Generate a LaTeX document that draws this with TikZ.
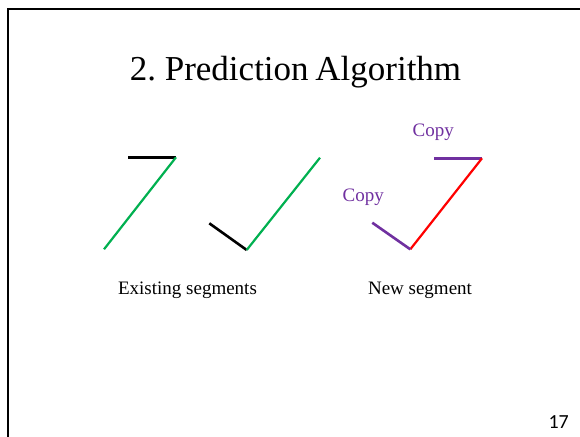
\documentclass[tikz,border=0pt]{standalone}
\usepackage{fontspec}
\setmainfont{Liberation Serif}
\newfontfamily\numfont{Carlito}
\definecolor{segGreen}{HTML}{00B050}
\definecolor{segPurple}{HTML}{7030A0}
\definecolor{segRed}{HTML}{FF0000}
\tikzset{
  blackseg/.style={draw=black, line width=2.6pt},
  greenseg/.style={draw=segGreen, line width=2.2pt},
  purpleseg/.style={draw=segPurple, line width=2.6pt},
  redseg/.style={draw=segRed, line width=2.2pt},
  caption/.style={font=\fontsize{19}{22}\selectfont, inner sep=0pt, anchor=base},
  copylabel/.style={font=\fontsize{19}{22}\selectfont, text=segPurple, inner sep=0pt, anchor=base},
}
\begin{document}
\begin{tikzpicture}[x=1pt, y=-1pt]
\useasboundingbox (0,0) rectangle (580,436);
\fill[white] (0,0) rectangle (580,436);
% slide frame
\coordinate (fbl) at (7.5,437);
\coordinate (ftl) at (7.5,9);
\coordinate (ftr) at (581,9);
\draw[line width=2pt] (fbl) -- (ftl) -- (ftr);
% title
\node[inner sep=0pt, anchor=base, font=\fontsize{35}{40}\selectfont] (title) at (295.5,80.7) {2.\ Prediction\hspace{-0.06em} Algorithm};
% existing segment 1
\coordinate (a1) at (128.3,157.3);
\coordinate (a2) at (176,157.3);
\coordinate (a3) at (104,249.3);
\draw[blackseg] (a1) -- (a2);
\draw[greenseg] (a2) -- (a3);
% existing segment 2
\coordinate (b1) at (209.3,223.3);
\coordinate (b2) at (246.7,250);
\coordinate (b3) at (320,157.7);
\draw[blackseg] (b1) -- (b2);
\draw[greenseg] (b2) -- (b3);
% new segment
\coordinate (c1) at (434,158.3);
\coordinate (c2) at (482,158.3);
\coordinate (c3) at (410.3,249.3);
\coordinate (c4) at (372.3,222.7);
\draw[purpleseg] (c1) -- (c2);
\draw[redseg] (c2) -- (c3);
\draw[purpleseg] (c4) -- (c3);
% labels
\node[copylabel] (copytop) at (433.3,136.5) {Copy};
\node[copylabel] (copylow) at (363.3,201.5) {Copy};
\node[caption] (existing) at (187.5,294) {Existing segments};
\node[caption] (newseg) at (420,294) {New segment};
\node[inner sep=0pt, anchor=base, font=\numfont\fontsize{20}{24}\selectfont] (pagenum) at (558.7,428.3) {17};
\end{tikzpicture}
\end{document}
